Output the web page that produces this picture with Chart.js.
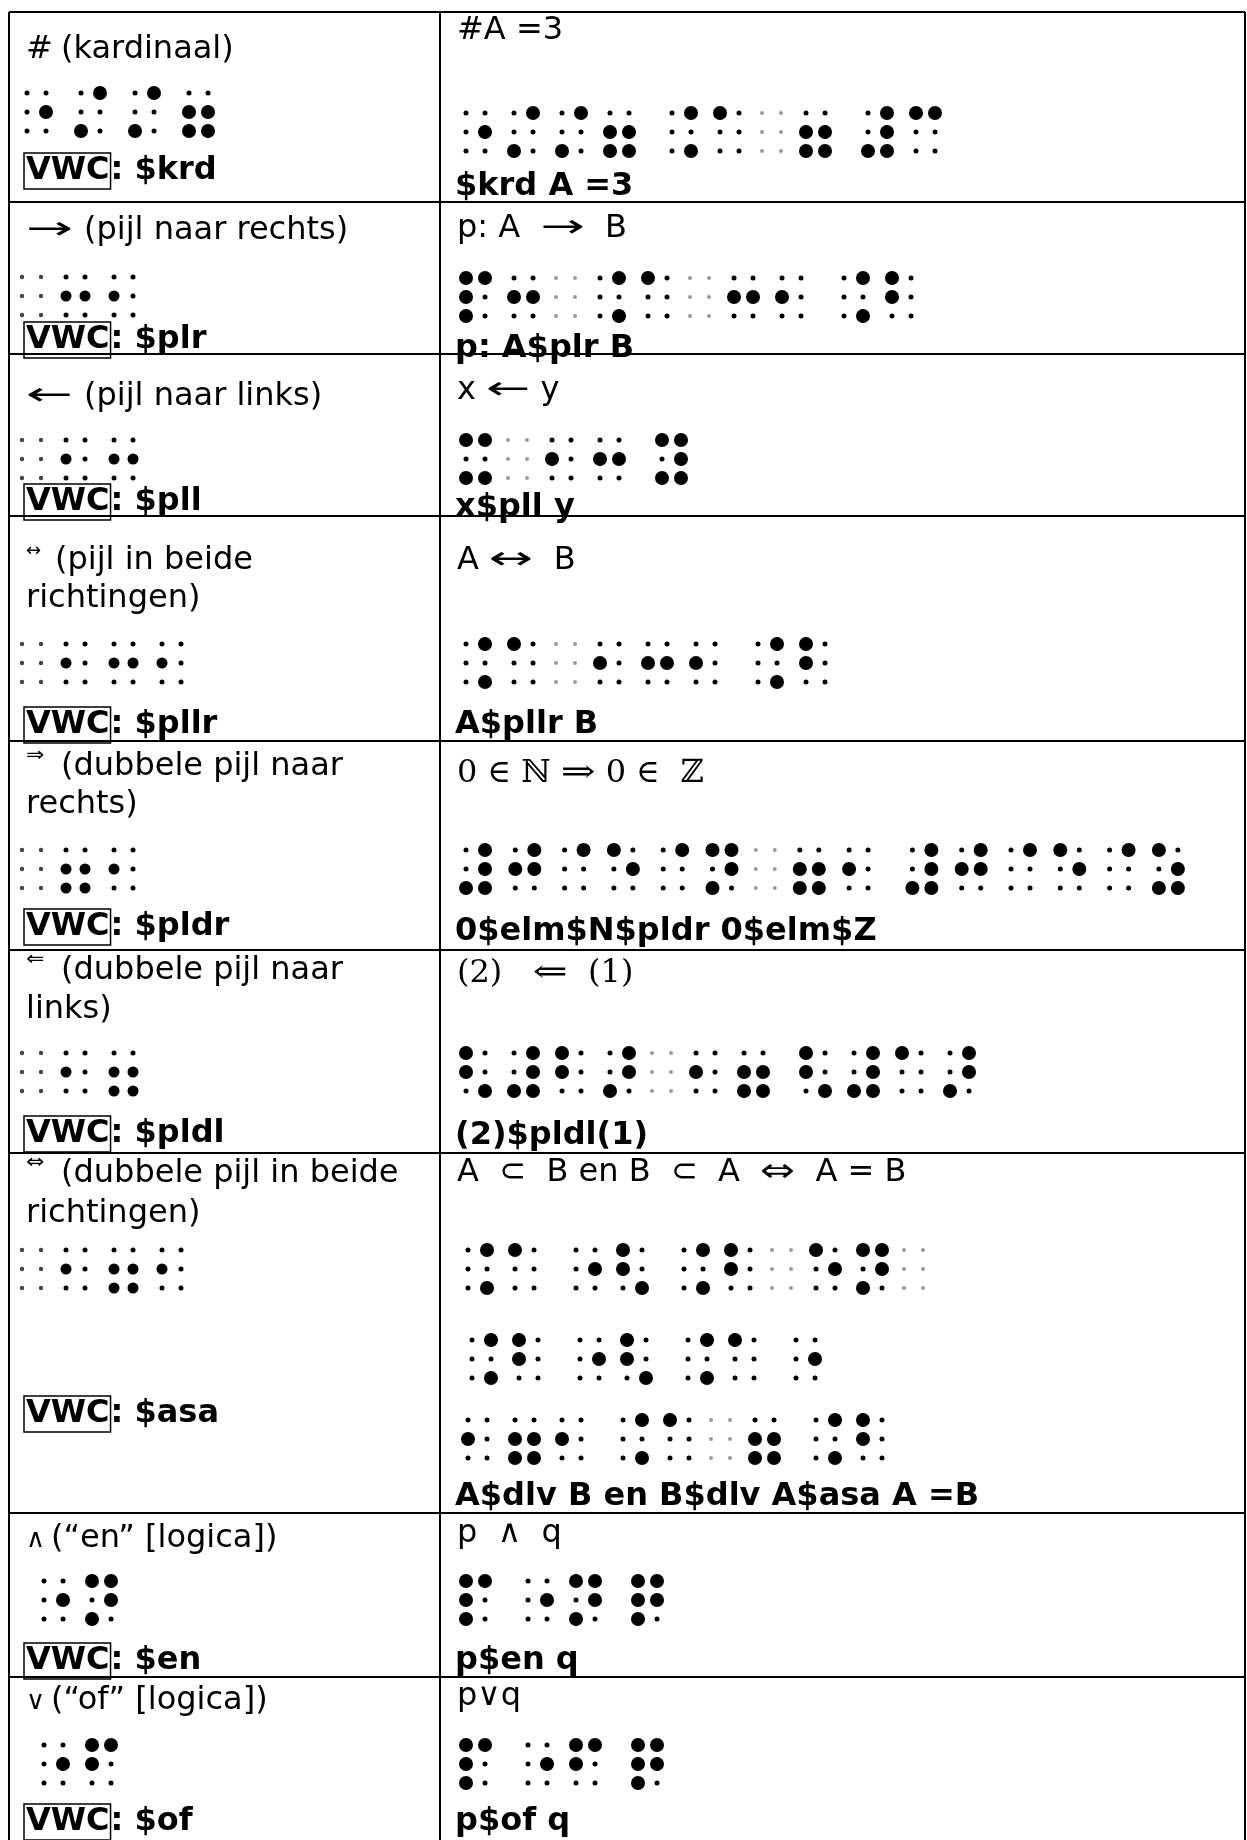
<!DOCTYPE html>
<html>
<head>
<meta charset="utf-8">
<script src="https://cdn.jsdelivr.net/npm/chart.js@4.4.1/dist/chart.umd.min.js"></script>
<style>
  html, body { margin: 0; padding: 0; background: #fff; }
  canvas { display: block; }
</style>
</head>
<body>
<canvas id="table" width="1247" height="1840"></canvas>
<script>
// Table content: symbol, description, VWC code, example and its code
const symbols = ["#", "→", "←", "↔", "⇒", "⇐", "⇔", "∧", "∨"];
const descriptions = [
  ["(kardinaal)"],
  ["(pijl naar rechts)"],
  ["(pijl naar links)"],
  ["(pijl in beide", "richtingen)"],
  ["(dubbele pijl naar", "rechts)"],
  ["(dubbele pijl naar", "links)"],
  ["(dubbele pijl in beide", "richtingen)"],
  ["(“en” [logica])"],
  ["(“of” [logica])"],
];
const vwcCodes = ["$krd", "$plr", "$pll", "$pllr", "$pldr", "$pldl", "$asa", "$en", "$of"];
const examples = [
  "#A =3",
  "p: A  →  B",
  "x ← y",
  "A ↔  B",
  "0 ∈ ℕ ⇒ 0 ∈  ℤ",
  "(2)   ⇐  (1)",
  "A  ⊂  B en B  ⊂  A  ⇔  A = B",
  "p  ∧  q",
  "p∨q",
];
const exampleCodes = [
  "$krd A =3",
  "p: A$plr B",
  "x$pll y",
  "A$pllr B",
  "0$elm$N$pldr 0$elm$Z",
  "(2)$pldl(1)",
  "A$dlv B en B$dlv A$asa A =B",
  "p$en q",
  "p$of q",
];

// Braille cells ("_" = blank cell with faint dots, " " = small gap)
const brailleSymbol = ["⠐⠌⠌⠶", "_⠒⠂", "_⠂⠒", "_⠂⠒⠂", "_⠶⠂", "_⠂⠶", "_⠂⠶⠂", "⠐⠝", "⠐⠋"];
const brailleExample = [
  ["⠐⠌⠌⠶ ⠨⠁_⠶ ⠼⠉"],
  ["⠏⠒_⠨⠁_⠒⠂ ⠨⠃"],
  ["⠭_⠂⠒ ⠽"],
  ["⠨⠁_⠂⠒⠂ ⠨⠃"],
  ["⠼⠚⠈⠑⠈⠝_⠶⠂ ⠼⠚⠈⠑⠈⠵"],
  ["⠣⠼⠃⠜_⠂⠶ ⠣⠼⠁⠜"],
  ["⠨⠁ ⠐⠣ ⠨⠃_⠑⠝_", "⠨⠃ ⠐⠣ ⠨⠁ ⠐", "⠂⠶⠂ ⠨⠁_⠶ ⠨⠃"],
  ["⠏ ⠐⠝ ⠟"],
  ["⠏ ⠐⠋ ⠟"],
];

// ---- layout (page pixels) ----
const W = 1247, H = 1840;
const rowLines = [12, 202, 354, 516, 741, 950, 1153, 1513, 1677];
const colLines = [9, 440, 1245];
const DOT = 19, GAP = 14;

const labelY = [[50], [231], [397], [561, 599], [767, 805], [971, 1010], [1174, 1214], [1539], [1701]];
const descX = [61, 84, 84, 55, 61, 61, 61, 51, 51];
const symFont = [32, 32, 32, 18, 20, 20, 20, 26, 26];
const symDy = [0, 0, 0, -10, -11, -11, -11, 1, 1];
const symStretch = [1, 1.75, 1.75, 1, 1.1, 1.1, 1.1, 1, 1];
const exampleY = [31, 229, 391, 561, 774, 974, 1173, 1534, 1697];
const vwcY = [171, 340, 502, 725, 927, 1134, 1414, 1661, 1822];
const codeY = [187, 349, 508, 725, 932, 1136, 1497, 1661, 1822];
const brailleLeftPos = [[27, 93], [28, 277], [28, 440], [28, 644], [28, 850], [28, 1053], [28, 1250], [44, 1581], [44, 1745]];
const brailleRightPos = [[[466, 113]], [[466, 278]], [[466, 440]], [[466, 644]], [[466, 850]], [[466, 1053]],
  [[468, 1250], [472, 1340], [468, 1420]], [[466, 1581]], [[466, 1745]]];
const leftPitch = [54, 48, 48, 48, 48, 48, 48, 48, 48];
const rightPitch = [48, 48, 48, 48, 49.3, 48, 47, 48, 48];

const raisedBig = [], raisedSmall = [], flatDots = [], faintRight = [], faintLeft = [];

function addBraille(cells, x, y, big, pitch, faintTarget) {
  for (const ch of cells) {
    if (ch === " ") { x += GAP; continue; }
    if (ch === "_") {
      x -= 6;
      for (let d = 0; d < 6; d++) {
        faintTarget.push({ x: x + (d < 3 ? 0 : DOT), y: y + (d % 3) * DOT });
      }
      x += 44;
      continue;
    }
    const bits = ch.codePointAt(0) - 0x2800;
    for (let d = 0; d < 6; d++) {
      const pt = { x: x + (d < 3 ? 0 : DOT), y: y + (d % 3) * DOT };
      if (bits & (1 << d)) (big ? raisedBig : raisedSmall).push(pt);
      else flatDots.push(pt);
    }
    x += pitch;
  }
}

brailleSymbol.forEach((cells, i) => {
  const [bx, by] = brailleLeftPos[i];
  addBraille(cells, bx, by, i === 0 || i >= 7, leftPitch[i], faintLeft);
});
brailleExample.forEach((lines, i) => {
  lines.forEach((cells, j) => {
    const [bx, by] = brailleRightPos[i][j];
    addBraille(cells, bx, by, true, rightPitch[i], faintRight);
  });
});

// table rules as line datasets
const ruleSets = [];
rowLines.forEach((ry) => {
  ruleSets.push({ type: "line", data: [{ x: colLines[0], y: ry }, { x: colLines[2], y: ry }] });
});
colLines.forEach((cx) => {
  ruleSets.push({ type: "line", data: [{ x: cx, y: rowLines[0] }, { x: cx, y: H }] });
});
ruleSets.forEach((ds) => {
  ds.borderColor = "#000";
  ds.borderWidth = 2;
  ds.pointRadius = 0;
  ds.showLine = true;
  ds.fill = false;
});

const ARROWS = /([→←↔⇒⇐⇔])/;

// text of the table drawn through the scales
const tableText = {
  id: "tableText",
  afterDatasetsDraw(chart) {
    const { ctx, scales } = chart;
    const px = (v) => scales.x.getPixelForValue(v);
    const py = (v) => scales.y.getPixelForValue(v);
    const put = (text, vx, vy, font) => {
      ctx.font = font;
      ctx.fillText(text, px(vx), py(vy));
      return ctx.measureText(text).width;
    };
    // arrows in the source are wider than in DejaVu, stretch them
    const putRich = (text, vx, vy, font, single, double) => {
      let x = px(vx);
      ctx.font = font;
      text.split(ARROWS).forEach((part) => {
        if (!part) return;
        const w = ctx.measureText(part).width;
        if (ARROWS.test(part)) {
          const sx = "⇒⇐⇔".includes(part) ? double : single;
          ctx.save();
          ctx.translate(x, py(vy));
          ctx.scale(sx, 1);
          ctx.fillText(part, 0, 0);
          ctx.restore();
          x += w * sx;
        } else {
          ctx.fillText(part, x, py(vy));
          x += w;
        }
      });
    };
    ctx.save();
    ctx.fillStyle = "#000";
    ctx.textAlign = "left";
    ctx.textBaseline = "middle";
    const sans = "32px 'DejaVu Sans'";
    const bold = "bold 32px 'DejaVu Sans'";

    for (let i = 0; i < symbols.length; i++) {
      // symbol + description
      putRich(symbols[i], 26, labelY[i][0] + symDy[i], symFont[i] + "px 'DejaVu Sans'", symStretch[i], symStretch[i]);
      descriptions[i].forEach((line, j) => {
        put(line, j === 0 ? descX[i] : 26, labelY[i][j], sans);
      });
      // VWC code with boxed "VWC"
      const w = put("VWC", 26, vwcY[i], bold);
      ctx.lineWidth = 1.5;
      ctx.strokeStyle = "#000";
      ctx.strokeRect(px(24), py(vwcY[i] - 18), w + 3, 36);
      put(": " + vwcCodes[i], 26 + w + 1, vwcY[i], bold);
      // example and its code
      const exFont = (i === 4 || i === 5) ? "32px 'DejaVu Serif'" : sans;
      putRich(examples[i], 457, exampleY[i], exFont, 1.65, 1.3);
      put(exampleCodes[i], 455, codeY[i], bold);
    }
    ctx.restore();
  },
};

const dotSet = (data, r, color) => ({
  data: data,
  pointRadius: r,
  pointHoverRadius: r,
  backgroundColor: color,
  borderWidth: 0,
  showLine: false,
});

new Chart(document.getElementById("table"), {
  type: "scatter",
  data: {
    datasets: [
      ...ruleSets,
      dotSet(faintRight, 2, "#999"),
      dotSet(faintLeft, 2.2, "#444"),
      dotSet(flatDots, 2.5, "#000"),
      dotSet(raisedSmall, 5.5, "#000"),
      dotSet(raisedBig, 7, "#000"),
    ],
  },
  options: {
    responsive: false,
    animation: false,
    devicePixelRatio: 1,
    layout: { autoPadding: false, padding: 0 },
    events: [],
    scales: {
      x: { type: "linear", min: 0, max: W, display: false },
      y: { type: "linear", min: 0, max: H, reverse: true, display: false },
    },
    plugins: { legend: { display: false }, tooltip: { enabled: false } },
  },
  plugins: [tableText],
});
</script>
</body>
</html>
